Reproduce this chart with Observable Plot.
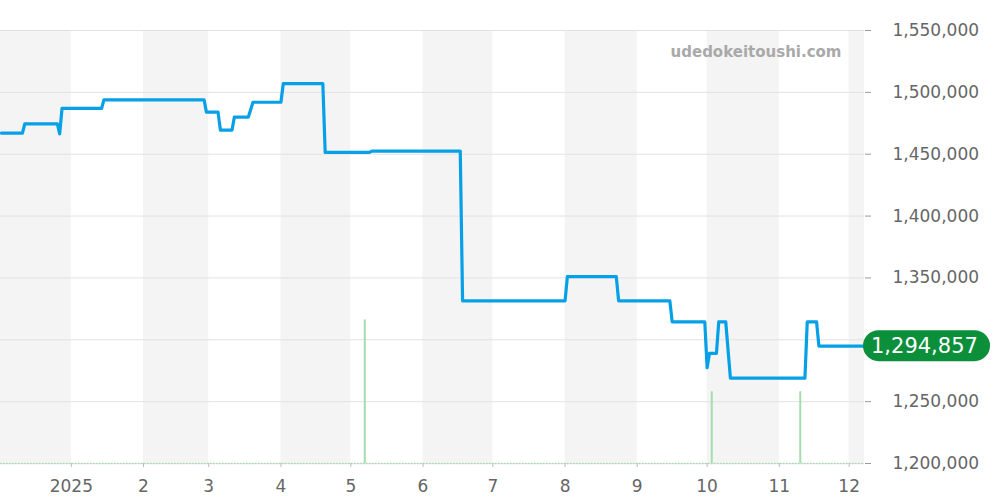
<!DOCTYPE html>
<html><head><meta charset="utf-8">
<script src="https://cdn.jsdelivr.net/npm/d3@7"></script>
<script src="https://cdn.jsdelivr.net/npm/@observablehq/plot@0.6"></script>
<style>
body{margin:0;background:#fff;font-family:"DejaVu Sans",sans-serif}
#chart svg{display:block}
</style>
</head><body><div id="chart"></div>
<script>
// ---- data ----
const priceDates = [
  "2024-12-02","2024-12-11","2024-12-12","2024-12-26","2024-12-27","2024-12-28",
  "2025-01-14","2025-01-15","2025-02-27","2025-02-28","2025-03-05","2025-03-06",
  "2025-03-11","2025-03-12","2025-03-18","2025-03-19","2025-03-20","2025-04-01",
  "2025-04-02","2025-04-19","2025-04-20","2025-05-09","2025-05-10","2025-06-17",
  "2025-06-18","2025-08-01","2025-08-02","2025-08-23","2025-08-24","2025-09-15",
  "2025-09-16","2025-09-30","2025-10-01","2025-10-02","2025-10-05","2025-10-06",
  "2025-10-09","2025-10-11","2025-11-12","2025-11-13","2025-11-17","2025-11-18",
  "2025-12-07"
];
const priceValues = [
  1467000,1467000,1474500,1474500,1466500,1487000,
  1487000,1494000,1494000,1484000,1484000,1469500,
  1469500,1480000,1480000,1486000,1492000,1492000,
  1507000,1507000,1451500,1451500,1452500,1452500,
  1331500,1331500,1351000,1351000,1331500,1331500,
  1314500,1314500,1277500,1289000,1289000,1314500,
  1314500,1269000,1269000,1314500,1314500,1294857,
  1294857
];
const volumeDates = ["2025-05-07","2025-10-03","2025-11-10"];
const volumeCounts = [2,1,1];
const yTickValues = [1200000,1250000,1300000,1350000,1400000,1450000,1500000,1550000];
const lastPrice = 1294857;
const watermark = "udedokeitoushi.com";

// ---- build tables ----
const prices = priceDates.map((d,i)=>({date:new Date(d), price:priceValues[i]}));
const yMin = 1200000, yMax = 1550000;
const volUnit = 58000; // price-axis units per traded item (secondary scale)
const volumes = volumeDates.map((d,i)=>({date:new Date(d), top: yMin + volumeCounts[i]*volUnit}));

const xDomain = [new Date("2024-12-01T14:00:00Z"), new Date("2025-12-07T14:00:00Z")];
const months = d3.utcMonth.range(d3.utcMonth.floor(xDomain[0]), xDomain[1]);
// shaded months: Dec, Feb, Apr, Jun, Aug, Oct
const shaded = months.filter(m => [11,1,3,5,7,9].includes(m.getUTCMonth()))
  .map(m => ({x1: m < xDomain[0] ? xDomain[0] : m, x2: d3.utcMonth.offset(m,1) > xDomain[1] ? xDomain[1] : d3.utcMonth.offset(m,1)}));
const monthTicks = d3.utcMonth.range(d3.utcMonth.ceil(xDomain[0]), xDomain[1]);
// the last-price badge hides the axis label it sits on
const labeledTicks = yTickValues.filter(v => Math.abs(v - lastPrice) > 12000);

const plot = Plot.plot({
  width: 1000,
  height: 500,
  marginLeft: 0,
  marginRight: 136,
  marginTop: 30,
  marginBottom: 37,
  style: {fontFamily: "DejaVu Sans, sans-serif", background: "#fff", overflow: "visible"},
  x: {type: "utc", domain: xDomain},
  y: {domain: [yMin, yMax]},
  marks: [
    Plot.rectY(shaded, {x1: "x1", x2: "x2", y1: yMin, y2: yMax, fill: "#f4f4f4"}),
    Plot.ruleY(yTickValues, {stroke: "#e2e2e2", strokeWidth: 1}),
    Plot.ruleY([yMin], {stroke: "#a6dcae", strokeWidth: 1.5, strokeDasharray: "1.5,1.5"}),
    Plot.ruleX(volumes, {x: "date", y1: yMin, y2: "top", stroke: "#a6dcae", strokeWidth: 2}),
    Plot.line(prices, {x: "date", y: "price", stroke: "#06a0e6", strokeWidth: 3.2, curve: "linear"}),
    Plot.axisY({anchor: "right", ticks: labeledTicks, tickFormat: d3.format(","), tickSize: 6, tickPadding: 22,
      fontSize: 17, fill: "#666", stroke: "#999", label: null}),
    Plot.axisX({ticks: monthTicks, tickSize: 4, tickPadding: 12, fontSize: 17, fill: "#666", stroke: "#bbb",
      tickFormat: d => d.getUTCMonth() === 0 ? String(d.getUTCFullYear()) : String(d.getUTCMonth()+1), label: null}),
    Plot.text([watermark], {frameAnchor: "top-right", dx: -23, dy: 22, text: d => d, fontSize: 15,
      fontWeight: "bold", fill: "#a9a9a9", lineAnchor: "middle", textAnchor: "end"})
  ]
});

document.getElementById("chart").appendChild(plot);

// last-price pill, positioned through the plot's y scale
const svg = d3.select(plot);
const yPos = plot.scale("y").apply(lastPrice);
const g = svg.append("g");
g.append("rect").attr("x", 863).attr("y", yPos - 15.5).attr("width", 127).attr("height", 31)
  .attr("rx", 15.5).attr("fill", "#0b8f3b");
g.append("text").attr("x", 871).attr("y", yPos).attr("dy", "0.36em")
  .attr("text-anchor", "start")
  .attr("font-size", 21).attr("fill", "#fff").attr("font-family", "DejaVu Sans, sans-serif")
  .text(d3.format(",")(lastPrice));
</script>
</body></html>
